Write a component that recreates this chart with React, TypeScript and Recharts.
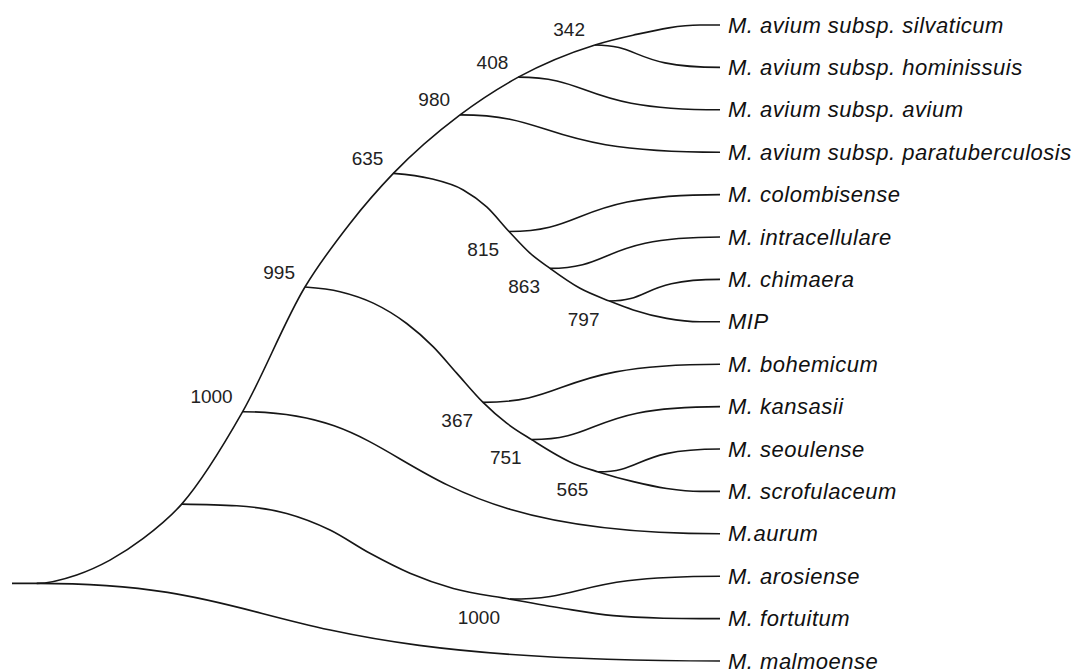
import React from "react";
import { ComposedChart, Line, Scatter, XAxis, YAxis } from "recharts";

type Pt = [number, number];

// taxa, top to bottom; the row index is the y value
const leaves = [
  "M. avium subsp. silvaticum",
  "M. avium subsp. hominissuis",
  "M. avium subsp. avium",
  "M. avium subsp. paratuberculosis",
  "M. colombisense",
  "M. intracellulare",
  "M. chimaera",
  "MIP",
  "M. bohemicum",
  "M. kansasii",
  "M. seoulense",
  "M. scrofulaceum",
  "M.aurum",
  "M. arosiense",
  "M. fortuitum",
  "M. malmoense",
];
const leafRows = leaves.map((_, i) => i);

// long lineages that pass through internal nodes: [distance from root (0-100), row]
const rootToSilvaticum: Pt[] = [
  [0, 13.17], [3.49, 13.17], [9.14, 12.97], [13.84, 12.62], [18.54, 12.11],
  [23.97, 11.3], [32.58, 9.12], [41.38, 6.18], [47.74, 4.68], [53.86, 3.5],
  [63.28, 2.12], [71.51, 1.23], [82.34, 0.47], [87.71, 0.24], [97.18, 0], [100, 0],
];
const toFortuitum: Pt[] = [
  [23.97, 11.3], [31.74, 11.34], [38.8, 11.52], [44.92, 11.91], [50.56, 12.46],
  [56.21, 12.93], [62.33, 13.29], [70.34, 13.54], [77.87, 13.76], [84.93, 13.93],
  [91.99, 13.99], [97.18, 14], [100, 14],
];
const toScrofulaceum: Pt[] = [
  [41.38, 6.18], [46.33, 6.29], [51.03, 6.56], [55.75, 7.04], [59.51, 7.59],
  [62.81, 8.21], [66.53, 8.9], [69.87, 9.39], [73.4, 9.78], [79.28, 10.34],
  [82.81, 10.54], [87.75, 10.77], [92.47, 10.93], [97.18, 11], [100, 11],
];
const toMIP: Pt[] = [
  [53.86, 3.5], [59.04, 3.62], [63.74, 3.89], [67.05, 4.29], [70.2, 4.87],
  [73.16, 5.38], [75.99, 5.74], [80.23, 6.21], [84.39, 6.51], [87.75, 6.72],
  [92.47, 6.92], [97.18, 7], [100, 7],
];

// single branches from a node straight to a tip: [node, tip]
const toMalmoense: Pt[] = [[3.49, 13.17], [100, 15]];
const toArosiense: Pt[] = [[70.34, 13.54], [100, 13]];
const toAurum: Pt[] = [[32.58, 9.12], [100, 12]];
const toBohemicum: Pt[] = [[66.53, 8.9], [100, 8]];
const toKansasii: Pt[] = [[73.4, 9.78], [100, 9]];
const toSeoulense: Pt[] = [[82.81, 10.54], [100, 10]];
const toColombisense: Pt[] = [[70.2, 4.87], [100, 4]];
const toIntracellulare: Pt[] = [[75.99, 5.74], [100, 5]];
const toChimaera: Pt[] = [[84.39, 6.51], [100, 6]];
const toParatuberculosis: Pt[] = [[63.28, 2.12], [100, 3]];
const toAvium: Pt[] = [[71.51, 1.23], [100, 2]];
const toHominissuis: Pt[] = [[82.34, 0.47], [100, 1]];

const lineages = [rootToSilvaticum, toFortuitum, toScrofulaceum, toMIP];
const twigs = [
  toMalmoense, toArosiense, toAurum, toBohemicum, toKansasii, toSeoulense,
  toColombisense, toIntracellulare, toChimaera, toParatuberculosis, toAvium, toHominissuis,
];

// bootstrap support (out of 1000) at internal nodes
const bootstrapAbove = [
  { x: 82.34, y: 0.47, value: 342 },
  { x: 71.51, y: 1.23, value: 408 },
  { x: 63.28, y: 2.12, value: 980 },
  { x: 53.86, y: 3.5, value: 635 },
  { x: 41.38, y: 6.18, value: 995 },
  { x: 32.58, y: 9.12, value: 1000 },
];
const bootstrapBelow = [
  { x: 70.2, y: 4.87, value: 815 },
  { x: 75.99, y: 5.74, value: 863 },
  { x: 84.39, y: 6.51, value: 797 },
  { x: 66.53, y: 8.9, value: 367 },
  { x: 73.4, y: 9.78, value: 751 },
  { x: 82.81, y: 10.54, value: 565 },
  { x: 70.34, y: 13.54, value: 1000 },
];

const FONT = '"Liberation Sans", Arial, sans-serif';
const STROKE = "#161616";

// S-shaped horizontal link, flat at both ends, steepest a bit left of centre
const skewBump = (context: any) => {
  let x0 = 0;
  let y0 = 0;
  let n = 0;
  return {
    areaStart() {},
    areaEnd() {},
    lineStart() {
      n = 0;
    },
    lineEnd() {},
    point(x: number, y: number) {
      if (n === 0) context.moveTo(x, y);
      else {
        const dx = x - x0;
        context.bezierCurveTo(x0 + 0.38 * dx, y0, x0 + 0.3 * dx, y, x, y);
      }
      x0 = x;
      y0 = y;
      n++;
    },
  };
};

const LeafTick = (props: any) => {
  const { x, y, payload } = props;
  return (
    <text
      x={x}
      y={y}
      dy={7.5}
      textAnchor="start"
      fontFamily={FONT}
      fontSize={22}
      fontStyle="italic"
      letterSpacing={0.5}
      fill="#111"
    >
      {leaves[payload.value]}
    </text>
  );
};

const supportLabel = (dy: number) => (props: any) => (
  <text
    x={props.cx - 10}
    y={props.cy + dy}
    textAnchor="end"
    fontFamily={FONT}
    fontSize={19}
    fill="#222"
  >
    {props.payload.value}
  </text>
);

const toRows = (pts: Pt[]) => pts.map(([x, y]) => ({ x, y }));

export default function App() {
  return (
    <div style={{ position: "absolute", left: 0, top: 0, width: 1076, height: 670, background: "#fff" }}>
      <ComposedChart
        width={1076}
        height={670}
        margin={{ top: 25, right: 0, bottom: 9, left: 12 }}
      >
        <XAxis type="number" dataKey="x" domain={[0, 100]} hide />
        <YAxis
          type="number"
          dataKey="y"
          orientation="right"
          domain={[0, 15]}
          tickCount={16}
          reversed
          ticks={leafRows}
          interval={0}
          width={356}
          axisLine={false}
          tickLine={false}
          tickSize={6}
          tickMargin={2}
          tick={<LeafTick />}
        />
        {lineages.map((pts, i) => (
          <Line
            key={`l${i}`}
            data={toRows(pts)}
            dataKey="y"
            type="monotoneX"
            stroke={STROKE}
            strokeWidth={1.6}
            dot={false}
            activeDot={false}
            isAnimationActive={false}
          />
        ))}
        {twigs.map((pts, i) => (
          <Line
            key={`t${i}`}
            data={toRows(pts)}
            dataKey="y"
            type={skewBump as any}
            stroke={STROKE}
            strokeWidth={1.6}
            dot={false}
            activeDot={false}
            isAnimationActive={false}
          />
        ))}
        <Scatter data={bootstrapAbove} dataKey="y" shape={supportLabel(-8.5)} isAnimationActive={false} />
        <Scatter data={bootstrapBelow} dataKey="y" shape={supportLabel(24.5)} isAnimationActive={false} />
      </ComposedChart>
    </div>
  );
}
